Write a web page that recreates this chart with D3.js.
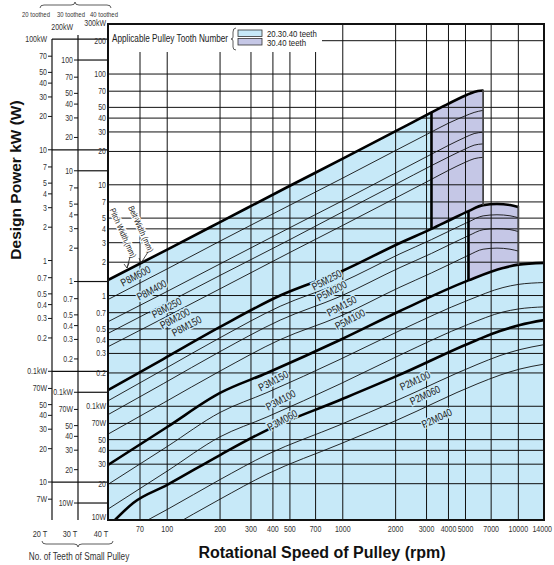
<!DOCTYPE html>
<html>
<head>
<meta charset="utf-8">
<script src="https://cdn.jsdelivr.net/npm/d3@7"></script>
<style>
  body { margin: 0; background: #fff; }
  svg text { font-family: "Liberation Sans", Arial, sans-serif; fill: #333; }
  svg text.title { font-weight: bold; fill: #111; }
</style>
</head>
<body>
<div id="chart"></div>
<script>
// rpm ticks on the x axis
const rpmTicks = [70, 100, 200, 300, 400, 500, 700, 1000, 2000, 3000, 4000, 5000, 7000, 10000, 14000];

// power scales of the three tooth-number columns (kW)
const col1Values = [100, 70, 50, 40, 30, 20, 10, 7, 5, 4, 3, 2, 1, 0.7, 0.5, 0.4, 0.3, 0.2, 0.1, 0.07, 0.05, 0.04, 0.03, 0.02, 0.01, 0.007];
const col1Labels = ['100kW', '70', '50', '40', '30', '20', '10', '7', '5', '4', '3', '2', '1', '0.7', '0.5', '0.4', '0.3', '0.2', '0.1kW', '70W', '50', '40', '30', '20', '10', '7W'];
const col1Rules = [100, 10, 0.1, 0.01];
const col2Values = [200, 100, 70, 50, 40, 30, 20, 10, 7, 5, 4, 3, 2, 1, 0.7, 0.5, 0.4, 0.3, 0.2, 0.1, 0.07, 0.05, 0.04, 0.03, 0.02, 0.01];
const col2Labels = ['200kW', '100', '70', '50', '40', '30', '20', '10', '7', '5', '4', '3', '2', '1', '0.7', '0.5', '0.4', '0.3', '0.2', '0.1kW', '70W', '50', '40', '30', '20', '10W'];
const col2Rules = [100, 10, 1, 0.1, 0.01];
const col3Values = [300, 200, 100, 70, 50, 40, 30, 20, 10, 7, 5, 4, 3, 2, 1, 0.7, 0.5, 0.4, 0.3, 0.2, 0.1, 0.07, 0.05, 0.04, 0.03, 0.02, 0.01];
const col3Labels = ['300kW', '200', '100', '70', '50', '40', '30', '20', '10', '7', '5', '4', '3', '2', '1', '0.7', '0.5', '0.4', '0.3', '0.2', '0.1kW', '70W', '50', '40', '30', '20', '10W'];
const gridValues = [200, 100, 70, 50, 40, 30, 20, 10, 7, 5, 4, 3, 2, 1, 0.7, 0.5, 0.4, 0.3, 0.2, 0.1, 0.07, 0.05, 0.04, 0.03, 0.02];
const toothHeads = ['20 toothed', '30 toothed', '40 toothed'];
const toothFoots = ['20 T', '30 T', '40 T'];

// boundary curves [rpm, kW] (read on the 40-tooth scale)
const p8m600 = [[46, 1.38], [100, 2.6], [200, 4.6], [500, 9.8], [1000, 17.2], [2000, 30.5], [3200, 45], [4000, 54], [5000, 64], [5600, 69], [6300, 71]];
const p5m250 = [[46, 0.14], [95, 0.267], [200, 0.52], [440, 1.0], [964, 1.63], [2118, 2.98], [3200, 4.0], [4080, 4.81], [5200, 5.78], [6300, 6.55], [7558, 6.7], [8961, 6.56], [10000, 6.3]];
const p3m150 = [[46, 0.0295], [100, 0.065], [200, 0.132], [370, 0.2], [964, 0.397], [2118, 0.725], [5200, 1.37], [8173, 1.77], [10000, 1.9], [14000, 1.97]];
const p2m100 = [[50.4, 0.0094], [64, 0.0134], [100, 0.0195], [200, 0.0363], [370, 0.061], [964, 0.114], [2036, 0.188], [5815, 0.397], [7860, 0.478], [10212, 0.542], [14000, 0.6]];

// thin width curves
const p8m400 = [[46, 0.92], [100, 1.74], [200, 3.1], [500, 6.55], [1000, 11.5], [2000, 20.4], [3200, 30], [4000, 36], [5000, 42], [5600, 45], [6300, 47]];
const p8m250 = [[46, 0.58], [100, 1.09], [200, 1.93], [500, 4.1], [1000, 7.2], [2000, 12.8], [3200, 18.9], [4000, 22.7], [5000, 26.9], [5600, 29], [6300, 29.8]];
const p8m200 = [[46, 0.455], [100, 0.86], [200, 1.52], [500, 3.2], [1000, 5.7], [2000, 10.1], [3200, 14.9], [4000, 17.8], [5000, 21.1], [5600, 22.8], [6300, 23.4]];
const p8m150 = [[46, 0.345], [100, 0.65], [200, 1.15], [500, 2.45], [1000, 4.3], [2000, 7.6], [3200, 11.2], [4000, 13.5], [5000, 16], [5600, 17.2], [6300, 17.7]];
const p5m200 = [[46, 0.112], [95, 0.214], [200, 0.416], [440, 0.8], [964, 1.3], [2118, 2.38], [3200, 3.2], [4080, 3.85], [5200, 4.62], [6300, 5.24], [7558, 5.36], [8961, 5.25], [10000, 5.04]];
const p5m150 = [[46, 0.084], [95, 0.16], [200, 0.312], [440, 0.6], [964, 0.98], [2118, 1.79], [3200, 2.4], [4080, 2.89], [5200, 3.47], [6300, 3.93], [7558, 4.02], [8961, 3.94], [10000, 3.78]];
const p5m100 = [[46, 0.056], [95, 0.107], [200, 0.208], [440, 0.4], [964, 0.65], [2118, 1.19], [3200, 1.6], [4080, 1.92], [5200, 2.31], [6300, 2.62], [7558, 2.68], [8961, 2.62], [10000, 2.52]];
const p3m100 = [[46, 0.0197], [100, 0.0433], [200, 0.088], [370, 0.133], [964, 0.265], [2118, 0.483], [5200, 0.91], [8173, 1.18], [10000, 1.26], [14000, 1.31]];
const p3m060 = [[46, 0.0118], [100, 0.026], [200, 0.053], [370, 0.08], [964, 0.159], [2118, 0.29], [5200, 0.55], [8173, 0.71], [10000, 0.756], [14000, 0.79]];
const p2m060 = [[64, 0.008], [100, 0.0117], [200, 0.0218], [370, 0.0366], [964, 0.068], [2036, 0.113], [5815, 0.238], [7860, 0.287], [10212, 0.325], [14000, 0.36]];
const p2m040 = [[100, 0.0078], [200, 0.0145], [370, 0.0244], [964, 0.0456], [2036, 0.075], [5815, 0.159], [7860, 0.191], [10212, 0.217], [14000, 0.24]];

const thickCurves = [p8m600, p5m250, p3m150, p2m100];
const thinCurves = [p8m400, p8m250, p8m200, p8m150, p5m200, p5m150, p5m100, p3m100, p3m060, p2m060, p2m040];

// purple zones (30.40 teeth only): rpm range, upper and lower curve
const zones = [
  { from: 3200, to: 6300, top: p8m600, bottom: p5m250 },
  { from: 5200, to: 10000, top: p5m250, bottom: p3m150 }
];

// curve names and where they are written [rpm, kW]
const curveNames = ['P8M600', 'P8M400', 'P8M250', 'P8M200', 'P8M150', 'P5M250', 'P5M200', 'P5M150', 'P5M100', 'P3M150', 'P3M100', 'P3M060', 'P2M100', 'P2M060', 'P2M040'];
const nameAt = [[66, 1.5], [81.6, 1.12], [99.3, 0.776], [110.7, 0.622], [129, 0.531], [810, 1.38], [865, 1.1], [986, 0.805], [1099, 0.61], [402, 0.17], [443, 0.114], [452, 0.075], [2578, 0.17], [2940, 0.126], [3428, 0.078]];

const legendItems = ['20.30.40 teeth', '30.40 teeth'];

const blue = '#c7e9f8';
const purple = '#c5c7e6';
const plot = { left: 108, right: 544, top: 24, bottom: 520 };
const narrow = 0.82;

const svg = d3.select('#chart').append('svg').attr('width', 554).attr('height', 565);
const defs = svg.append('defs');

const x = d3.scaleLog().domain([46, 14000]).range([plot.left, plot.right]);
const y = d3.scaleLog().domain([0.0094, 283]).range([plot.bottom, plot.top]);
const col1Shift = 2.07;
const col2Shift = 1.338;

function clip(id, x0, x1) {
  defs.append('clipPath').attr('id', id).append('rect')
    .attr('x', x0).attr('y', plot.top).attr('width', x1 - x0).attr('height', plot.bottom - plot.top);
  return `url(#${id})`;
}
const plotClip = clip('plotClip', plot.left, plot.right);

const line = d3.line().x(d => x(d[0])).y(d => y(d[1])).curve(d3.curveMonotoneX);
const under = d3.area().x(d => x(d[0])).y0(plot.bottom).y1(d => y(d[1])).curve(d3.curveMonotoneX);

// fills
const fills = svg.append('g');
fills.append('path').attr('d', under(p8m600)).attr('fill', purple).attr('clip-path', clip('z1', x(zones[0].from), x(zones[0].to)));
fills.append('path').attr('d', under(p8m600)).attr('fill', blue).attr('clip-path', clip('b1', plot.left, x(zones[0].from)));
fills.append('path').attr('d', under(p5m250)).attr('fill', purple).attr('clip-path', clip('z2', x(zones[1].from), x(zones[1].to)));
fills.append('path').attr('d', under(p5m250)).attr('fill', blue).attr('clip-path', clip('b2', plot.left, x(zones[1].from)));
fills.append('path').attr('d', under(p3m150)).attr('fill', blue).attr('clip-path', plotClip);

// grid
const grid = svg.append('g').attr('stroke', '#111').attr('stroke-width', 1);
grid.selectAll('.h').data(gridValues).enter().append('line')
  .attr('x1', plot.left).attr('x2', plot.right)
  .attr('y1', d => y(d)).attr('y2', d => y(d));
grid.selectAll('.v').data(rpmTicks.slice(0, -1)).enter().append('line')
  .attr('x1', d => x(d)).attr('x2', d => x(d))
  .attr('y1', plot.top).attr('y2', plot.bottom);

// curves
const curves = svg.append('g').attr('clip-path', plotClip).attr('fill', 'none');
curves.selectAll('.thin').data(thinCurves).enter().append('path')
  .attr('d', line).attr('stroke', '#111').attr('stroke-width', 0.9);
curves.selectAll('.thick').data(thickCurves).enter().append('path')
  .attr('d', line).attr('stroke', '#000').attr('stroke-width', 2.6);

// zone edges
const valueAt = (curve, rpm) => curve.find(d => d[0] === rpm)[1];
zones.forEach(z => {
  svg.append('line')
    .attr('x1', x(z.from)).attr('x2', x(z.from))
    .attr('y1', y(valueAt(z.top, z.from))).attr('y2', y(valueAt(z.bottom, z.from)))
    .attr('stroke', '#000').attr('stroke-width', 2.6);
  svg.append('line')
    .attr('x1', x(z.to)).attr('x2', x(z.to))
    .attr('y1', y(valueAt(z.top, z.to)) - 1).attr('y2', y(valueAt(z.bottom, z.to)))
    .attr('stroke', '#444').attr('stroke-width', 1.8);
});

// curve names
svg.append('g').selectAll('text').data(curveNames).enter().append('text')
  .attr('class', 'narrow')
  .attr('transform', (d, i) => `translate(${x(nameAt[i][0])},${y(nameAt[i][1])}) rotate(${d.startsWith('P2M') ? -25 : -28})`)
  .attr('text-anchor', 'middle').attr('dy', '0.35em')
  .attr('font-size', 10.5)
  .attr('stroke', blue).attr('stroke-width', 3).attr('paint-order', 'stroke')
  .style('fill', '#222')
  .text(d => d);

// pitch / belt width notes
const notes = svg.append('g');
[['Pitch Width (mm)', 123, 233], ['Belt Width (mm)', 141, 229]].forEach(n => {
  notes.append('text').attr('class', 'narrow')
    .attr('transform', `translate(${n[1]},${n[2]}) rotate(66)`)
    .attr('text-anchor', 'middle').attr('dy', '0.35em').attr('font-size', 8.5)
    .attr('stroke', '#fff').attr('stroke-width', 2.5).attr('paint-order', 'stroke')
    .style('fill', '#222').text(n[0]);
});
notes.append('path').attr('d', 'M130,257 L127,268 M124,264 L127,268 L129,263 M148,252 L141,263 M139,258 L141,263 L145,260')
  .attr('fill', 'none').attr('stroke', '#222').attr('stroke-width', 0.8);

// frame
svg.append('rect').attr('x', plot.left).attr('y', plot.top)
  .attr('width', plot.right - plot.left).attr('height', plot.bottom - plot.top)
  .attr('fill', 'none').attr('stroke', '#111').attr('stroke-width', 2);

// legend
const lg = svg.append('g');
lg.append('rect').attr('x', plot.left + 1).attr('y', plot.top + 1).attr('width', 213).attr('height', 27).attr('fill', '#fff');
lg.append('text').attr('class', 'narrow').attr('x', 112).attr('y', 42).attr('font-size', 10).style('fill', '#222').text('Applicable Pulley Tooth Number');
lg.append('path').attr('d', 'M236,28 Q233,28 233,32 L233,37 Q233,39 231,39 Q233,39 233,41 L233,47 Q233,50 236,50')
  .attr('fill', 'none').attr('stroke', '#333').attr('stroke-width', 0.8);
[blue, purple].forEach((c, i) => {
  lg.append('rect').attr('x', 238).attr('y', 30 + i * 8.5).attr('width', 24).attr('height', 6.5)
    .attr('fill', c).attr('stroke', '#333').attr('stroke-width', 0.8);
  lg.append('text').attr('class', 'narrow').attr('x', 267).attr('y', 36.5 + i * 9.5).attr('font-size', 9.5).style('fill', '#222').text(legendItems[i]);
});

// left power scales
const cols = [
  { axis: 52, top: 39, shift: col1Shift, values: col1Values, labels: col1Labels, rules: col1Rules, tick: true },
  { axis: 78, top: 35, shift: col2Shift, values: col2Values, labels: col2Labels, rules: col2Rules, tick: true },
  { axis: 108, top: 24, shift: 1, values: col3Values, labels: col3Labels, rules: [], tick: false }
];
const scales = svg.append('g');
cols.forEach(c => {
  const g = scales.append('g');
  if (c.axis < plot.left) {
    g.append('line').attr('x1', c.axis).attr('x2', c.axis).attr('y1', c.top).attr('y2', plot.bottom)
      .attr('stroke', '#111').attr('stroke-width', 1.2);
  }
  g.selectAll('text').data(c.values).enter().append('text').attr('class', 'narrow')
    .attr('x', c.axis - (c.tick ? 5 : 2)).attr('y', d => Math.max(y(d * c.shift), 23))
    .attr('dy', '0.35em').attr('text-anchor', 'end').attr('font-size', 8.5)
    .text((d, i) => c.labels[i]);
  if (c.tick) {
    g.selectAll('.t').data(c.values.filter(v => y(v * c.shift) > c.top + 2)).enter().append('line')
      .attr('x1', c.axis - 4).attr('x2', c.axis)
      .attr('y1', d => y(d * c.shift)).attr('y2', d => y(d * c.shift))
      .attr('stroke', '#111').attr('stroke-width', 1);
  }
  g.selectAll('.r').data(c.rules).enter().append('line')
    .attr('x1', c.axis).attr('x2', plot.left)
    .attr('y1', d => y(d * c.shift)).attr('y2', d => y(d * c.shift))
    .attr('stroke', '#111').attr('stroke-width', 1.2);
});

// tooth headers and footers
[36, 71, 104].forEach((cx, i) => {
  svg.append('text').attr('class', 'narrow').attr('x', cx).attr('y', 17).attr('text-anchor', 'middle').attr('font-size', 7.2).text(toothHeads[i]);
});
[40, 70, 101].forEach((cx, i) => {
  svg.append('text').attr('class', 'narrow').attr('x', cx).attr('y', 537).attr('text-anchor', 'middle').attr('font-size', 9).text(toothFoots[i]);
});
svg.append('path').attr('d', 'M40,8 Q40,5 44,5 L71,5 Q75,5 75,2 Q75,5 79,5 L107,5 Q111,5 111,8')
  .attr('fill', 'none').attr('stroke', '#333').attr('stroke-width', 0.8);
svg.append('path').attr('d', 'M42,541 Q42,544 46,544 L74,544 Q78,544 78,547 Q78,544 82,544 L109,544 Q113,544 113,541')
  .attr('fill', 'none').attr('stroke', '#333').attr('stroke-width', 0.8);
svg.append('text').attr('class', 'narrow').attr('x', 79).attr('y', 560).attr('text-anchor', 'middle').attr('font-size', 10).text('No. of Teeth of Small Pulley');

// x tick labels
svg.append('g').selectAll('text').data(rpmTicks).enter().append('text').attr('class', 'narrow')
  .attr('x', (d, i) => i === rpmTicks.length - 1 ? 552 : x(d)).attr('y', 532)
  .attr('text-anchor', (d, i) => i === rpmTicks.length - 1 ? 'end' : 'middle').attr('font-size', 8.6)
  .text(d => d);

// titles
svg.append('text').attr('class', 'title').attr('x', 322).attr('y', 558).attr('text-anchor', 'middle')
  .attr('font-size', 16).text('Rotational Speed of Pulley (rpm)');
svg.append('text').attr('class', 'title').attr('transform', 'translate(21,180) rotate(-90)')
  .attr('text-anchor', 'middle').attr('font-size', 15.5).text('Design Power kW (W)');

// condensed lettering, like the narrow face of the original
svg.selectAll('text.narrow').each(function () {
  const w = this.getComputedTextLength();
  d3.select(this).attr('textLength', w * narrow).attr('lengthAdjust', 'spacingAndGlyphs');
});
</script>
</body>
</html>
